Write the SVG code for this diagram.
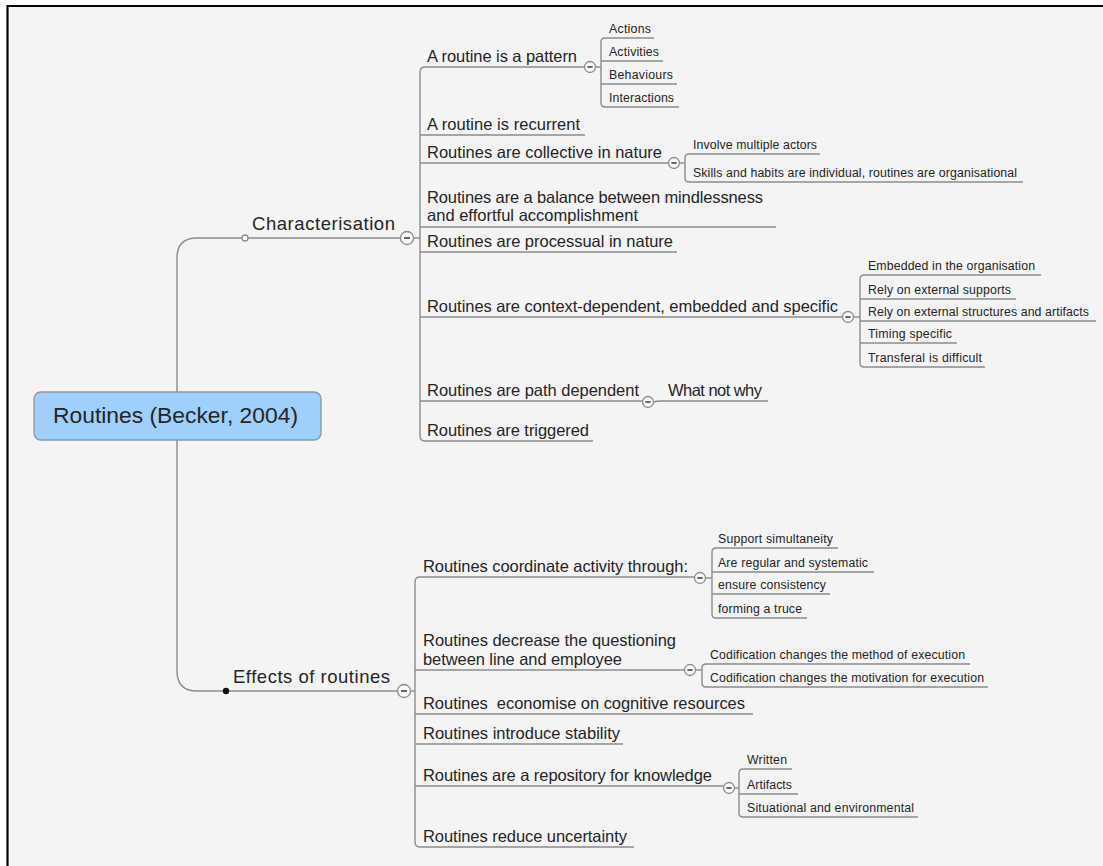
<svg xmlns="http://www.w3.org/2000/svg" width="1103" height="866" viewBox="0 0 1103 866">
<style>
text{font-family:"Liberation Sans",Arial,sans-serif;fill:#262626}
.root{font-size:22px}
.br{font-size:18.5px}
.m{font-size:16.5px}
.s{font-size:12.3px}
.ln{fill:none;stroke:#8c8c8c;stroke-width:1.4}
.cc{fill:#f8f8f8;stroke:#8c8c8c;stroke-width:1.3}
.cd{stroke:#444;stroke-width:1.6}
</style>
<defs>
<g id="col"><circle class="cc" r="5.5"/><line class="cd" x1="-2.6" y1="0" x2="2.6" y2="0"/></g>
<g id="colb"><circle class="cc" r="6.5"/><line class="cd" x1="-3" y1="0" x2="3" y2="0"/></g>
</defs>
<rect x="0" y="0" width="1103" height="866" fill="#ffffff"/>
<rect x="8" y="7" width="1095" height="859" fill="#f4f4f4"/>
<path d="M7 6 H1103 M7.5 5 V866" stroke="#000" stroke-width="2.2" fill="none"/>

<g id="connectors" class="ln">
<path d="M177 392 V258 Q177 238 197 238 H400.5"/>
<path d="M413.5 238 H420"/>
<path d="M425 67 Q420 67 420 72 V436 Q420 441 425 441"/>
<path d="M177 440 V671 Q177 691 197 691 H397.5"/>
<path d="M410.5 691 H415"/>
<path d="M420 577 Q415 577 415 582 V842 Q415 847 420 847"/>
<path d="M595.5 67 H601"/>
<path d="M605 38 Q601 38 601 42 V103 Q601 107 605 107"/>
<path d="M679.5 163 H685"/>
<path d="M689 154 Q685 154 685 158 V178 Q685 182 689 182"/>
<path d="M853.5 317 H860"/>
<path d="M864 275 Q860 275 860 279 V363 Q860 367 864 367"/>
<path d="M653.5 402 Q657 401 660 401"/>
<path d="M705.5 578 H712"/>
<path d="M716 548 Q712 548 712 552 V614 Q712 618 716 618"/>
<path d="M695.5 670 H702"/>
<path d="M706 664 Q702 664 702 668 V683 Q702 687 706 687"/>
<path d="M734.5 788 H739"/>
<path d="M743 769 Q739 769 739 773 V813 Q739 817 743 817"/>
</g>

<g id="root">
<rect x="34" y="392" width="287" height="48" rx="7" fill="#9fcffb" stroke="#8797a8" stroke-width="1.3"/>
<text class="root" x="53" y="423" textLength="245" lengthAdjust="spacingAndGlyphs">Routines (Becker, 2004)</text>
</g>

<g id="characterisation">
<circle cx="245" cy="238" r="3" fill="#f8f8f8" stroke="#8c8c8c" stroke-width="1.3"/>
<text class="br" x="252" y="230" textLength="143">Characterisation</text>
<use href="#colb" x="407" y="238"/>
</g>

<g id="effects">
<circle cx="226" cy="691" r="3.2" fill="#111"/>
<text class="br" x="233" y="683" textLength="157">Effects of routines</text>
<use href="#colb" x="404" y="691"/>
</g>

<g id="c-pattern">
<path class="ln" d="M425 67 H584.5"/>
<text class="m" x="427" y="62" textLength="150">A routine is a pattern</text>
<use href="#col" x="590" y="67"/>
</g>
<g id="c-pattern-actions"><path class="ln" d="M605 38 H654"/><text class="s" x="609" y="33" textLength="42">Actions</text></g>
<g id="c-pattern-activities"><path class="ln" d="M601 61 H663"/><text class="s" x="609" y="56" textLength="50">Activities</text></g>
<g id="c-pattern-behaviours"><path class="ln" d="M601 84 H677"/><text class="s" x="609" y="79" textLength="64">Behaviours</text></g>
<g id="c-pattern-interactions"><path class="ln" d="M605 107 H679"/><text class="s" x="609" y="102" textLength="65">Interactions</text></g>

<g id="c-recurrent"><path class="ln" d="M420 135 H585"/><text class="m" x="427" y="130" textLength="153">A routine is recurrent</text></g>

<g id="c-collective">
<path class="ln" d="M420 163 H668.5"/>
<text class="m" x="427" y="158" textLength="235">Routines are collective in nature</text>
<use href="#col" x="674" y="163"/>
</g>
<g id="c-collective-actors"><path class="ln" d="M689 154 H820"/><text class="s" x="693" y="149" textLength="124">Involve multiple actors</text></g>
<g id="c-collective-skills"><path class="ln" d="M689 182 H1023"/><text class="s" x="693" y="177" textLength="324">Skills and habits are individual, routines are organisational</text></g>

<g id="c-balance">
<path class="ln" d="M420 227 H776"/>
<text class="m" x="427" y="203" textLength="336">Routines are a balance between mindlessness</text>
<text class="m" x="427" y="221" textLength="211">and effortful accomplishment</text>
</g>

<g id="c-processual"><path class="ln" d="M420 252 H677"/><text class="m" x="427" y="247" textLength="246">Routines are processual in nature</text></g>

<g id="c-context">
<path class="ln" d="M420 317 H842.5"/>
<text class="m" x="427" y="312" textLength="411">Routines are context-dependent, embedded and specific</text>
<use href="#col" x="848" y="317"/>
</g>
<g id="c-context-embedded"><path class="ln" d="M864 275 H1041"/><text class="s" x="868" y="270" textLength="167">Embedded in the organisation</text></g>
<g id="c-context-supports"><path class="ln" d="M860 299 H1016"/><text class="s" x="868" y="294" textLength="143">Rely on external supports</text></g>
<g id="c-context-structures"><path class="ln" d="M860 321 H1096"/><text class="s" x="868" y="316" textLength="221">Rely on external structures and artifacts</text></g>
<g id="c-context-timing"><path class="ln" d="M860 343 H957"/><text class="s" x="868" y="338" textLength="84">Timing specific</text></g>
<g id="c-context-transferal"><path class="ln" d="M864 367 H985"/><text class="s" x="868" y="362" textLength="114">Transferal is difficult</text></g>

<g id="c-path">
<path class="ln" d="M420 401 H642.5"/>
<text class="m" x="427" y="396" textLength="212">Routines are path dependent</text>
<use href="#col" x="648" y="402"/>
</g>
<g id="c-path-what"><path class="ln" d="M660 401 H768"/><text class="m" x="668" y="396" textLength="94">What not why</text></g>

<g id="c-triggered"><path class="ln" d="M425 441 H593"/><text class="m" x="427" y="436" textLength="162">Routines are triggered</text></g>

<g id="e-coordinate">
<path class="ln" d="M420 577 H694.5"/>
<text class="m" x="423" y="572" textLength="265">Routines coordinate activity through:</text>
<use href="#col" x="700" y="578"/>
</g>
<g id="e-coordinate-simul"><path class="ln" d="M716 548 H838"/><text class="s" x="718" y="543" textLength="115">Support simultaneity</text></g>
<g id="e-coordinate-regular"><path class="ln" d="M712 572 H874"/><text class="s" x="718" y="567" textLength="150">Are regular and systematic</text></g>
<g id="e-coordinate-consistency"><path class="ln" d="M712 594 H830"/><text class="s" x="718" y="589" textLength="108">ensure consistency</text></g>
<g id="e-coordinate-truce"><path class="ln" d="M716 618 H807"/><text class="s" x="718" y="613" textLength="84">forming a truce</text></g>

<g id="e-decrease">
<path class="ln" d="M415 670 H684.5"/>
<text class="m" x="423" y="646" textLength="253">Routines decrease the questioning</text>
<text class="m" x="423" y="665" textLength="199">between line and employee</text>
<use href="#col" x="690" y="670"/>
</g>
<g id="e-decrease-method"><path class="ln" d="M706 664 H970"/><text class="s" x="710" y="659" textLength="255">Codification changes the method of execution</text></g>
<g id="e-decrease-motivation"><path class="ln" d="M706 687 H988"/><text class="s" x="710" y="682" textLength="274">Codification changes the motivation for execution</text></g>

<g id="e-economise"><path class="ln" d="M415 714 H753"/><text class="m" x="423" y="709" textLength="322" xml:space="preserve">Routines  economise on cognitive resources</text></g>

<g id="e-stability"><path class="ln" d="M415 744 H623"/><text class="m" x="423" y="739" textLength="197">Routines introduce stability</text></g>

<g id="e-repository">
<path class="ln" d="M415 786 H723.5"/>
<text class="m" x="423" y="781" textLength="289">Routines are a repository for knowledge</text>
<use href="#col" x="729" y="788"/>
</g>
<g id="e-repository-written"><path class="ln" d="M743 769 H792"/><text class="s" x="747" y="764" textLength="40">Written</text></g>
<g id="e-repository-artifacts"><path class="ln" d="M739 794 H798"/><text class="s" x="747" y="789" textLength="45">Artifacts</text></g>
<g id="e-repository-situational"><path class="ln" d="M743 817 H918"/><text class="s" x="747" y="812" textLength="167">Situational and environmental</text></g>

<g id="e-uncertainty"><path class="ln" d="M420 847 H634"/><text class="m" x="423" y="842" textLength="204">Routines reduce uncertainty</text></g>
</svg>
